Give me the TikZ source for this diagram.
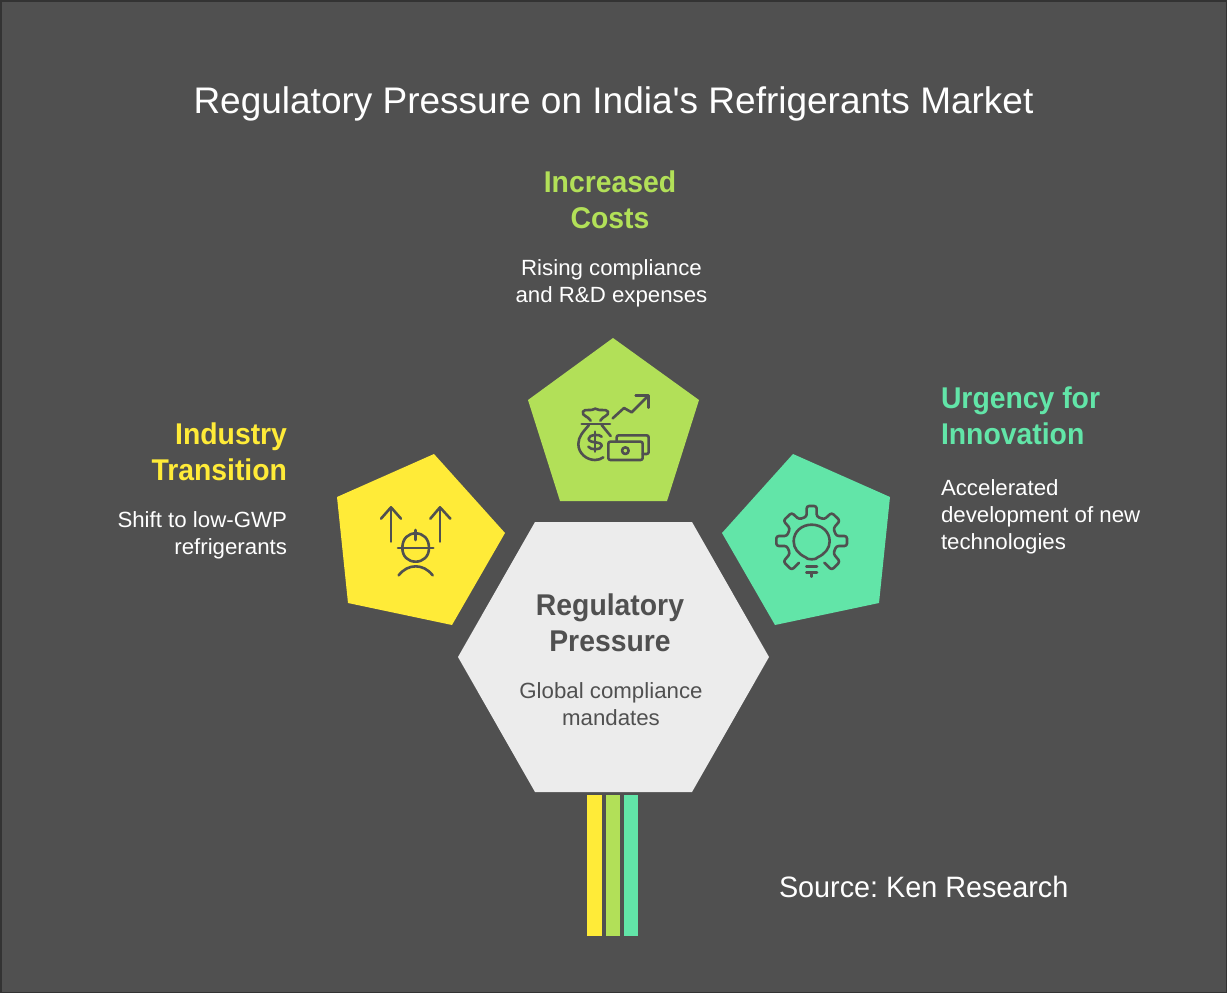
\documentclass[tikz,border=0pt]{standalone}
\usepackage{fontspec}
\setmainfont{Liberation Sans}
\newfontfamily\headfam[FakeStretch=0.945]{Liberation Sans}
\newfontfamily\bodyfam[FakeStretch=1.012]{Liberation Sans}
\newfontfamily\srcfam[FakeStretch=0.975]{Liberation Sans}
\definecolor{bg}{HTML}{505050}
\definecolor{edge}{HTML}{333333}
\definecolor{yel}{HTML}{FFEB38}
\definecolor{lime}{HTML}{B2E058}
\definecolor{teal}{HTML}{62E5A8}
\definecolor{hexc}{HTML}{ECECEC}
\newcommand{\headfont}{\headfam\fontsize{30}{36}\selectfont\bfseries\frenchspacing}
\newcommand{\bodyfont}{\bodyfam\fontsize{22}{27}\selectfont\frenchspacing}
\tikzset{
  txt/.style={inner sep=0pt,outer sep=0pt},
  icon/.style={draw=bg,line width=2.6pt,line cap=round,line join=round},
  zoomed/.style={x=0.33333pt,y=-0.33333pt},
}
\begin{document}
\begin{tikzpicture}[x=1pt,y=-1pt]
\useasboundingbox (0,0) rectangle (1227,993);
\fill[edge] (0,0) rectangle (1227,993);
\fill[bg] (1.5,1.5) rectangle (1225.5,991.5);
% shapes
\fill[hexc] (535,522) -- (692,522) -- (769,657) -- (692,792) -- (535,792) -- (458,657) -- cycle;
\fill[lime] (613,338) -- (699,400) -- (667,501) -- (560,501) -- (528,400) -- cycle;
\fill[yel] (434,454) -- (505,533) -- (452,625) -- (348,603) -- (337,497) -- cycle;
\fill[teal] (793,454) -- (890,497) -- (879,603) -- (775,625) -- (722,533) -- cycle;
\fill[yel] (587,795) rectangle (602,936);
\fill[lime] (605.5,795) rectangle (620,936);
\fill[teal] (623.5,795) rectangle (638,936);
% money icon
\begin{scope}[shift={(520,330)},zoomed]
\draw[icon] (212,272) .. controls (205,258) and (184,258) .. (189,245) .. controls (194,235) and (212,245) .. (226,236) .. controls (240,245) and (258,235) .. (264,245) .. controls (268,258) and (248,258) .. (241,272);
\draw[icon] (185,282) -- (270,282);
\draw[icon] (207,285) .. controls (190,305) and (175,320) .. (175,342) .. controls (175,370) and (200,390) .. (225,390) .. controls (235,390) and (243,387) .. (250,382);
\draw[icon] (245,285) -- (272,318);
\draw[icon] (245,320) .. controls (240,312) and (207,312) .. (206,326) .. controls (206,342) and (245,332) .. (245,347) .. controls (245,362) and (210,360) .. (205,350);
\draw[icon] (225,305) -- (225,365);
\draw[icon] (278,265) -- (312,234) -- (335,247) -- (385,197);
\draw[icon] (347,196) -- (386,196) -- (386,233);
\draw[icon,rounded corners=2pt] (290,335) -- (290,316) -- (386,316) -- (386,372) -- (368,372);
\draw[icon,rounded corners=2pt] (265,335) rectangle (368,390);
\draw[icon] (316,362) circle[radius=10];
\end{scope}
% worker icon
\begin{scope}[shift={(330,450)},zoomed]
\draw[icon] (183,275) -- (183,172);
\draw[icon] (153,206) -- (183,172) -- (213,206);
\draw[icon] (330,275) -- (330,172);
\draw[icon] (301,206) -- (330,172) -- (361,206);
\draw[icon] (217,294) .. controls (217,265) and (235,250) .. (257,250) .. controls (279,250) and (297,265) .. (297,294) .. controls (297,320) and (279,335) .. (257,335) .. controls (235,335) and (217,320) .. (217,294);
\draw[icon] (204,294) -- (310,294);
\draw[icon] (257,240) -- (257,270);
\draw[icon] (206,376) .. controls (220,358) and (238,349) .. (257,349) .. controls (276,349) and (294,358) .. (308,376);
\end{scope}
% gear icon
\begin{scope}[shift={(715,450)},zoomed]
\draw[icon,rounded corners=2.5pt] (252,338) -- (230,360) -- (205,335) -- (225,311) -- (216,288) -- (184,288) -- (184,258) -- (216,258) -- (225,235) -- (205,212) -- (230,188) -- (252,208) -- (275,200) -- (275,168) -- (305,168) -- (305,200) -- (328,208) -- (350,188) -- (375,212) -- (355,235) -- (364,258) -- (396,258) -- (396,288) -- (364,288) -- (355,311) -- (375,335) -- (350,360) -- (328,338);
\draw[icon] (272,322) .. controls (250,312) and (236,295) .. (236,274) .. controls (236,245) and (260,224) .. (290,224) .. controls (320,224) and (344,245) .. (344,274) .. controls (344,295) and (330,312) .. (308,322) .. controls (306,330) and (274,330) .. (272,322);
\draw[icon] (274,350) -- (306,350);
\draw[icon] (274,367) -- (306,367);
\draw[icon] (290,367) -- (290,380);
\end{scope}
% texts
\node[txt,anchor=base,text=white,font=\fontsize{37}{44}\selectfont\frenchspacing] (title) at (613.5,113.5) {Regulatory Pressure on India\textquotesingle s Refrigerants Market};
\node[txt,anchor=north,align=center,text=lime,font=\headfont] (costH) at (610,171) {Increased\\Costs};
\node[txt,anchor=north,align=center,text=white,font=\bodyfont] (costB) at (611.5,260) {Rising compliance\\and R\&D expenses};
\node[txt,anchor=north east,align=right,text=yel,font=\headfont] (indH) at (287,423) {Industry\\Transition};
\node[txt,anchor=north east,align=right,text=white,font=\bodyfont] (indB) at (287,512) {Shift to low-GWP\\refrigerants};
\node[txt,anchor=north west,align=left,text=teal,font=\headfont] (urgH) at (941,387) {Urgency for\\Innovation};
\node[txt,anchor=north west,align=left,text=white,font=\bodyfont] (urgB) at (941,480) {Accelerated\\development of new\\technologies};
\node[txt,anchor=north,align=center,text=bg,font=\headfont] (regH) at (610,594) {Regulatory\\Pressure};
\node[txt,anchor=north,align=center,text=bg,font=\bodyfont] (regB) at (611,683) {Global compliance\\mandates};
\node[txt,anchor=base west,text=white,font=\srcfam\fontsize{29.5}{36}\selectfont\frenchspacing] (src) at (779,897) {Source: Ken Research};
\end{tikzpicture}
\end{document}
